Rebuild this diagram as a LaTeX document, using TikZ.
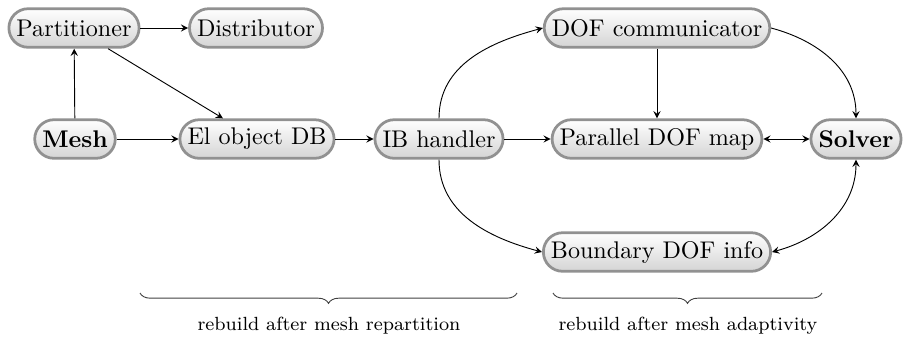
\documentclass[tikz,border=0pt]{standalone}
\usepackage{tikz}
\usetikzlibrary{positioning,decorations.pathreplacing}
\tikzstyle{pixelGrid} = [x = 0.0153cm, y = -0.0153cm]
\definecolor{boxLine}{RGB}{145,145,145}
\definecolor{boxShade}{RGB}{212,212,212}
\tikzstyle{blockStyle} = [draw=boxLine, line width=1.2pt, top color=white, bottom color=boxShade, rounded corners=8.4pt, minimum height=16.8pt, inner xsep=3.3pt, font=\fontsize{10.5}{12}\selectfont]
\tikzstyle{flowArrow} = [-stealth, thin]
\tikzstyle{twoWayArrow} = [stealth-stealth, thin]
\tikzstyle{braceStyle} = [decorate, decoration={brace, amplitude=4.5pt, mirror}, color=black!75]
\tikzstyle{braceText} = [font=\fontsize{8.3}{10}\selectfont]
\newcommand{\block}[4]{\node [blockStyle] (#1) at (#2, #3) {#4};}

\begin{document}
\begin{tikzpicture}[pixelGrid]
  \useasboundingbox (0,0) rectangle (906,341);
  \block{partitioner}{74}{28}{Partitioner}
  \block{distributor}{256}{28}{Distributor}
  \block{mesh}{75}{139}{\textbf{Mesh}}
  \block{elDB}{257}{139}{El object DB}
  \block{ibHandler}{439}{139}{IB handler}
  \block{dofComm}{657}{28}{DOF communicator}
  \block{dofMap}{657}{139}{Parallel DOF map}
  \block{solver}{856}{139}{\textbf{Solver}}
  \block{boundary}{657}{252}{Boundary DOF info}

  \draw [flowArrow] (partitioner) -- (distributor);
  \draw [flowArrow] (mesh) -- (partitioner);
  \draw [flowArrow] (partitioner) -- (elDB);
  \draw [flowArrow] (mesh) -- (elDB);
  \draw [flowArrow] (elDB) -- (ibHandler);
  \draw [flowArrow] (ibHandler) -- (dofMap);
  \draw [flowArrow] (ibHandler.north) to [out=90, in=195] (dofComm.west);
  \draw [flowArrow] (ibHandler.south) to [out=-90, in=165] (boundary.west);
  \draw [flowArrow] (dofComm) -- (dofMap);
  \draw [flowArrow] (dofComm.east) to [out=-15, in=90] (solver.north);
  \draw [twoWayArrow] (dofMap) -- (solver);
  \draw [twoWayArrow] (boundary.east) to [out=15, in=-90] (solver.south);

  % braces under the two groups
  \coordinate (repLeft) at (140,293);
  \coordinate (repRight) at (517,293);
  \coordinate (adaLeft) at (553,293);
  \coordinate (adaRight) at (822,293);
  \draw [braceStyle] (repLeft) -- (repRight);
  \draw [braceStyle] (adaLeft) -- (adaRight);
  \node [braceText] (repText) at (329,326) {rebuild after mesh repartition};
  \node [braceText] (adaText) at (688,326) {rebuild after mesh adaptivity};
\end{tikzpicture}
\end{document}
